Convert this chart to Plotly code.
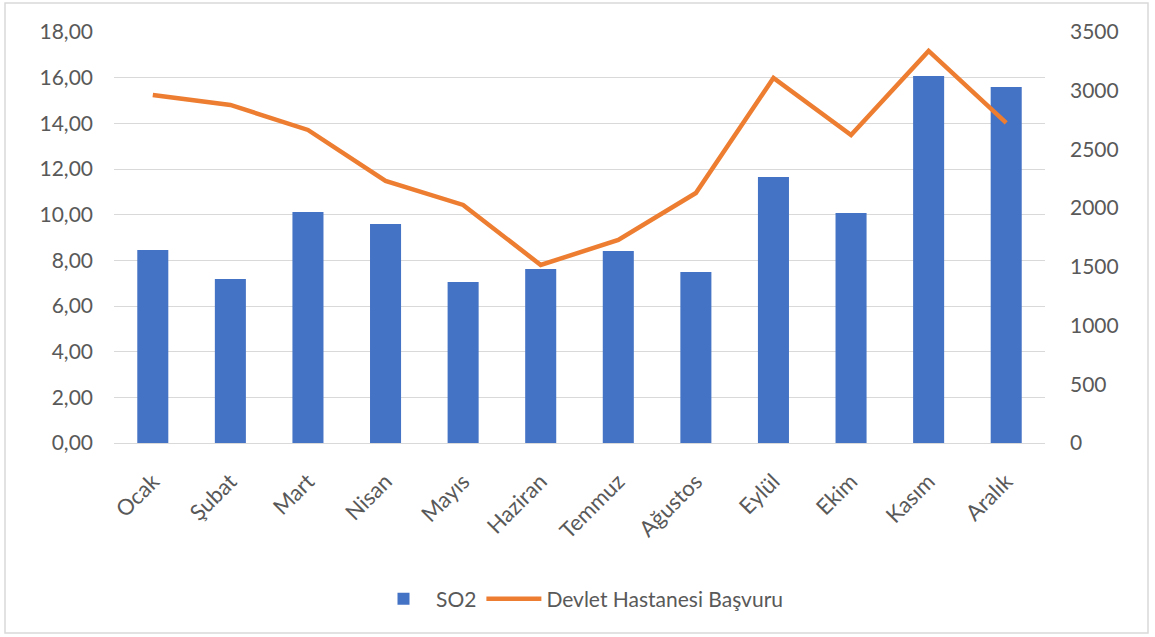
import plotly.graph_objects as go

months = ["Ocak", "Şubat", "Mart", "Nisan", "Mayıs", "Haziran",
          "Temmuz", "Ağustos", "Eylül", "Ekim", "Kasım", "Aralık"]
so2 = [8.45, 7.18, 10.12, 9.59, 7.05, 7.62, 8.41, 7.49, 11.65, 10.07, 16.07, 15.59]
basvuru = [2964, 2879, 2666, 2232, 2027, 1516, 1729, 2129, 3109, 2623, 3339, 2726]

left_ticks = [0, 2, 4, 6, 8, 10, 12, 14, 16, 18]
left_labels = [f"{v:.2f}".replace(".", ",") for v in left_ticks]
right_ticks = [0, 500, 1000, 1500, 2000, 2500, 3000, 3500]

FONT = "Lato, 'Open Sans', sans-serif"
GREY = "#595959"

fig = go.Figure()
fig.add_trace(go.Bar(
    x=months, y=so2, name="SO2",
    marker=dict(color="#4472c4", line=dict(width=0)),
    width=0.4,
))
fig.add_trace(go.Scatter(
    x=months, y=basvuru, name="Devlet Hastanesi Başvuru", yaxis="y2",
    mode="lines", line=dict(color="#ed7d31", width=4.5),
))

fig.update_layout(
    width=1155, height=637,
    margin=dict(l=114, r=110, t=32, b=194),
    paper_bgcolor="white", plot_bgcolor="white",
    font=dict(family=FONT, size=21, color=GREY),
    xaxis=dict(tickangle=-45, showgrid=False, showline=True, linecolor="#d9d9d9",
               linewidth=1, ticks="", tickfont=dict(size=22), ticklabelstandoff=16),
    yaxis=dict(range=[0, 18], tickvals=left_ticks, ticktext=left_labels,
               showgrid=True, gridcolor="#d9d9d9", gridwidth=1, zeroline=False,
               ticks="", ticklabelstandoff=20),
    yaxis2=dict(range=[0, 3500], tickvals=right_ticks, overlaying="y", side="right",
                showgrid=False, zeroline=False, ticks="", ticklabelstandoff=24),
    legend=dict(orientation="h", x=0.5, xanchor="center", y=-0.38, yanchor="middle",
                font=dict(size=21), traceorder="normal", itemwidth=55),
    shapes=[dict(type="rect", xref="paper", yref="paper",
                 x0=(5 - 114) / 931, x1=(1148 - 114) / 931,
                 y0=(443 - 633) / 411, y1=(443 - 3) / 411,
                 line=dict(color="#d9d9d9", width=1.5), layer="below")],
)

fig.write_html("out.html", config={"displayModeBar": False},
               post_script="document.body.style.margin='0';")
